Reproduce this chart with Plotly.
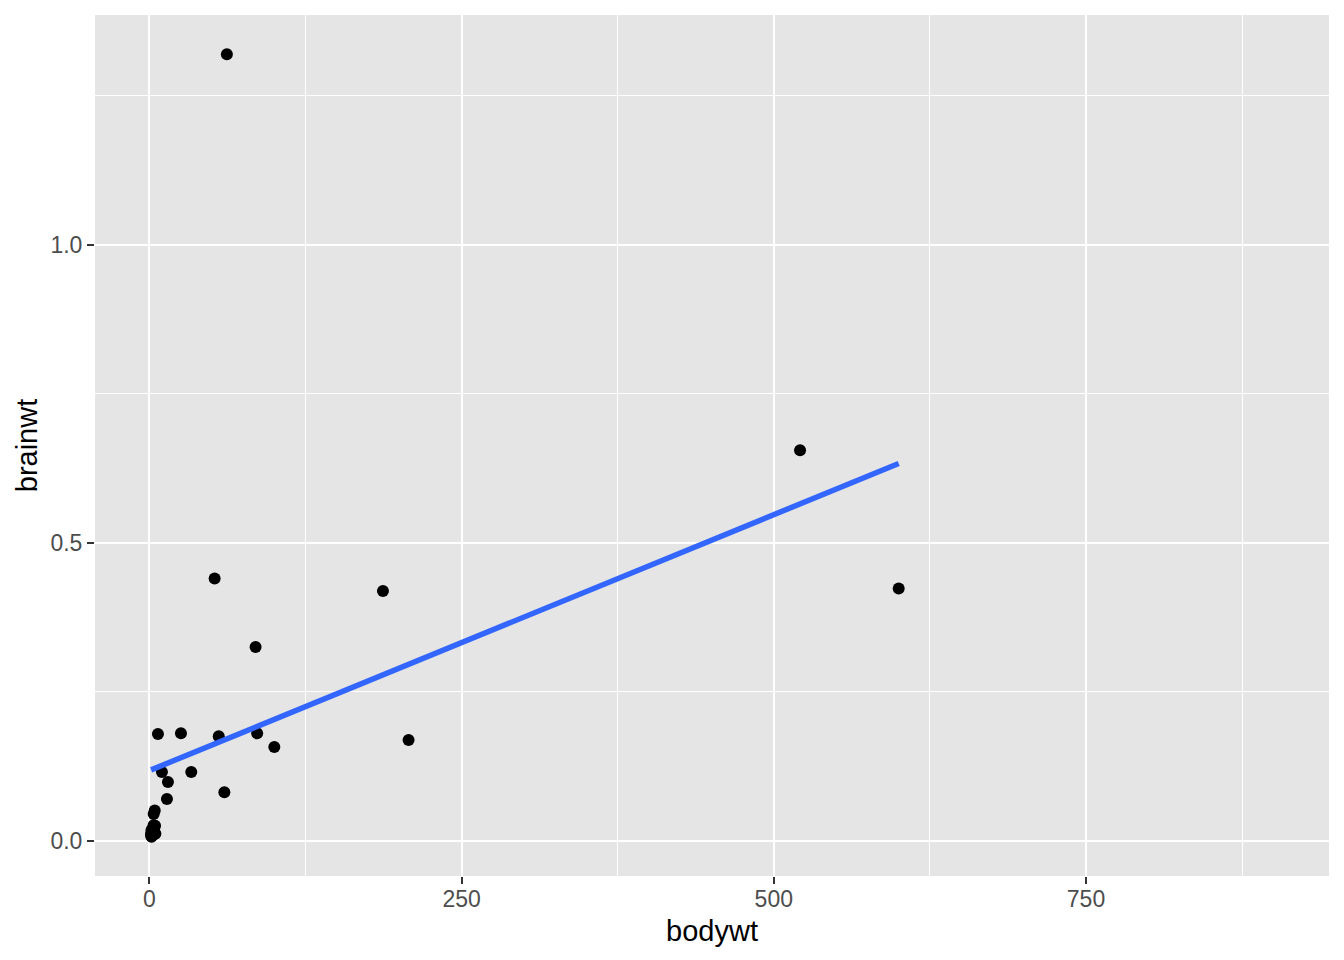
import plotly.graph_objects as go

# msleep animals with 1 < bodywt < 1000 and known brain weight
animal = ["Mountain beaver", "Cow", "Dog", "Roe deer", "Goat", "Grivet",
          "Long-nosed armadillo", "Tree hyrax", "North American Opossum",
          "Horse", "Donkey", "Patas monkey", "Domestic cat", "Gray seal",
          "Gray hyrax", "Human", "Mongoose lemur", "Macaque", "Slow loris",
          "Rabbit", "Sheep", "Chimpanzee", "Jaguar", "Baboon", "Phalanger",
          "Giant armadillo", "Rock hyrax", "Pig", "Short-nosed echidna",
          "Brazilian tapir", "Genet", "Arctic fox", "Red fox"]
bodywt = [1.35, 600, 14, 14.8, 33.5, 4.75,
          3.5, 2.95, 1.7,
          521, 187, 10, 3.3, 85,
          2.625, 62, 1.67, 6.8, 1.4,
          2.5, 55.5, 52.2, 100, 25.235, 1.62,
          60, 3.6, 86.25, 4.5,
          207.501, 2, 3.38, 4.23]
brainwt = [0.0081, 0.423, 0.07, 0.0982, 0.115, 0.0115,
           0.0108, 0.0123, 0.0063,
           0.655, 0.419, 0.115, 0.0256, 0.325,
           0.0121, 1.32, 0.018, 0.179, 0.0125,
           0.0121, 0.175, 0.44, 0.157, 0.18, 0.0114,
           0.081, 0.021, 0.18, 0.025,
           0.169, 0.0175, 0.0445, 0.0504]

# straight linear-fit line, end points
fit_bodywt = [1.35, 600]
fit_brainwt = [0.1187, 0.633]

x_ticks = [0, 250, 500, 750]
x_tick_labels = ["0", "250", "500", "750"]
y_ticks = [0.0, 0.5, 1.0]
y_tick_labels = ["0.0", "0.5", "1.0"]

fig = go.Figure()
fig.add_trace(go.Scatter(x=bodywt, y=brainwt, mode="markers", text=animal,
                         marker=dict(color="black", size=12, line=dict(width=0)),
                         showlegend=False))
fig.add_trace(go.Scatter(x=fit_bodywt, y=fit_brainwt, mode="lines",
                         line=dict(color="#3366FF", width=5.5), showlegend=False))

font_family = "Liberation Sans, Arial, Helvetica, sans-serif"
axis_common = dict(
    showgrid=True, gridcolor="white", gridwidth=2.4,
    zeroline=False, showline=False,
    ticks="outside", ticklen=7, tickwidth=2.4, tickcolor="#333333",
    tickfont=dict(family=font_family, size=23, color="#4D4D4D"),
)
fig.update_layout(
    width=1344, height=960,
    paper_bgcolor="white", plot_bgcolor="#E5E5E5",
    margin=dict(l=95, r=15, t=15, b=84),
    font=dict(family=font_family),
    xaxis=dict(range=[-43.6, 944.6], tickvals=x_ticks, ticktext=x_tick_labels,
               ticklabelstandoff=-5,
               minor=dict(dtick=125, tick0=0, showgrid=True, gridcolor="white",
                          gridwidth=1.2, ticks=""),
               title=dict(text="bodywt", font=dict(family=font_family, size=29, color="black"),
                          standoff=10),
               **axis_common),
    yaxis=dict(range=[-0.0594, 1.3857], tickvals=y_ticks, ticktext=y_tick_labels,
               minor=dict(dtick=0.25, tick0=0, showgrid=True, gridcolor="white",
                          gridwidth=1.2, ticks=""),
               title=dict(text="brainwt", font=dict(family=font_family, size=29, color="black"),
                          standoff=4),
               **axis_common),
)
fig.write_html("out.html")
